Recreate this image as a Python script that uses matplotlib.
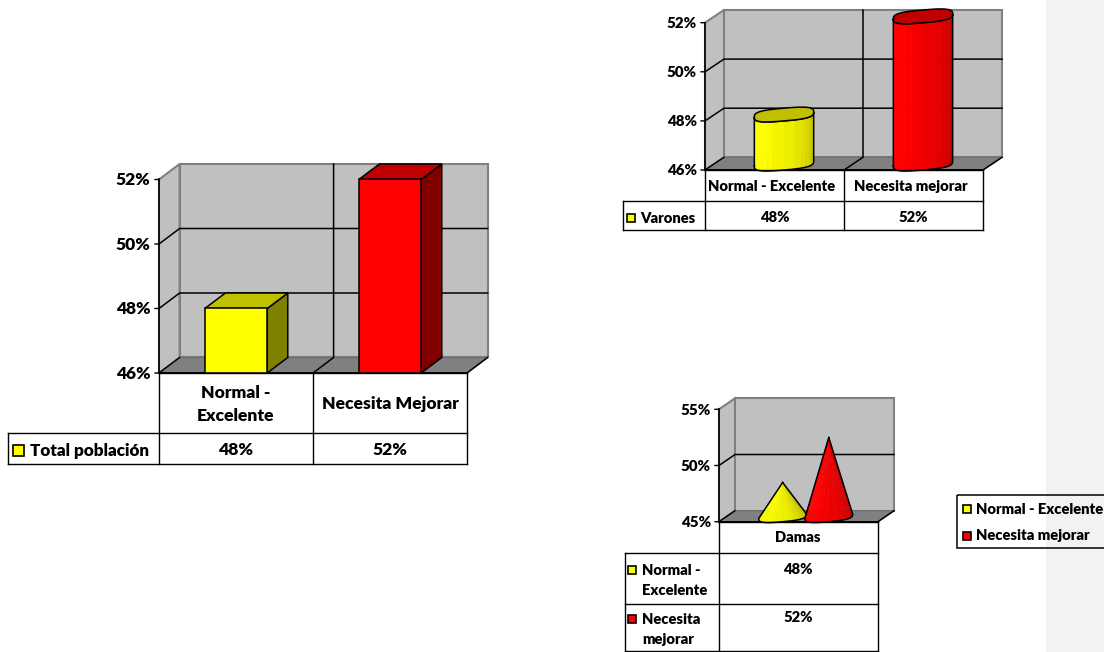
# Survey results: three oblique "3D" charts with data tables below them.

import numpy as np
import matplotlib
matplotlib.use('Agg')
import matplotlib.pyplot as plt
from matplotlib.patches import Polygon, Rectangle

plt.rcParams['font.family'] = ['Lato', 'DejaVu Sans']
plt.rcParams['font.weight'] = 800

W, H = 1104, 652

total_cats = ['Normal -\nExcelente', 'Necesita Mejorar']
total_vals = [48, 52]
total_ticks = [46, 48, 50, 52]

varones_cats = ['Normal - Excelente', 'Necesita mejorar']
varones_vals = [48, 52]
varones_ticks = [46, 48, 50, 52]

damas_cats = ['Damas']
damas_series = ['Normal -\nExcelente', 'Necesita\nmejorar']
damas_vals = [48, 52]
damas_ticks = [45, 50, 55]

legend_labels = ['Normal - Excelente', 'Necesita mejorar']

YELLOW = ('#ffff00', '#c0c000', '#808000')
RED = ('#ff0000', '#c00000', '#800000')

fig = plt.figure(figsize=(W / 100, H / 100), dpi=100, facecolor='white')

page = fig.add_axes([0, 0, 1, 1], zorder=5)
page.set_xlim(0, W)
page.set_ylim(H, 0)
page.axis('off')
page.patch.set_alpha(0)

# comment margin on the right of the sheet
back = fig.add_axes([0, 0, 1, 1], zorder=0)
back.set_xlim(0, W)
back.set_ylim(H, 0)
back.axis('off')
back.add_patch(Rectangle((1046, 0), 58, H, fc='#f2f2f2', ec='none'))


def make_chart(left, right, bottom, top, ticks, ncats, depth_x, depth_y, fs, tick_pad=6):
    ax = fig.add_axes([left / W, 1 - bottom / H, (right - left) / W, (bottom - top) / H], zorder=2)
    lo, hi = ticks[0], ticks[-1]
    ax.set_xlim(0, ncats)
    ax.set_ylim(lo, hi)
    ax.axis('off')
    dx = depth_x / ((right - left) / ncats)
    dy = depth_y / ((bottom - top) / (hi - lo))

    ax.add_patch(Polygon([(0, lo), (dx, lo + dy), (dx, hi + dy), (0, hi)], fc='#c0c0c0', ec='#808080', lw=1.5, clip_on=False, zorder=1))
    ax.add_patch(Polygon([(dx, lo + dy), (ncats + dx, lo + dy), (ncats + dx, hi + dy), (dx, hi + dy)], fc='#c0c0c0', ec='#808080', lw=1.5, clip_on=False, zorder=1))
    ax.add_patch(Polygon([(0, lo), (ncats, lo), (ncats + dx, lo + dy), (dx, lo + dy)], fc='#808080', ec='#707070', lw=1, clip_on=False, zorder=1.5))

    for t in ticks[1:-1]:
        ax.plot([0, dx, ncats + dx], [t, t + dy, t + dy], color='black', lw=1.1, clip_on=False, zorder=1.6)
    for c in range(1, ncats):
        ax.plot([c, c + dx, c + dx], [lo, lo + dy, hi + dy], color='black', lw=1.1, clip_on=False, zorder=1.6)
    ax.plot([ncats, ncats + dx], [lo, lo + dy], color='black', lw=1.1, clip_on=False, zorder=1.6)
    ax.plot([0, dx], [lo, lo + dy], color='black', lw=1.0, clip_on=False, zorder=1.6)
    ax.plot([0, 0], [lo, hi], color='black', lw=1.2, clip_on=False, zorder=1.7)
    ax.plot([0, ncats], [lo, lo], color='black', lw=1.4, clip_on=False, zorder=1.7)

    for t in ticks:
        ax.annotate('', xy=(0, t), xytext=(-3, 0), textcoords='offset points', xycoords='data',
                    arrowprops=dict(arrowstyle='-', color='black', lw=1, shrinkA=0, shrinkB=0), annotation_clip=False)
        ax.annotate('%d%%' % t, xy=(0, t), xytext=(-tick_pad, -0.7), textcoords='offset points',
                    ha='right', va='center', fontsize=fs, annotation_clip=False)
    return ax, dx, dy


def box_bar(ax, x, width, base, val, dx, dy, colors):
    x0, x1 = x - width / 2, x + width / 2
    ax.add_patch(Polygon([(x1, base), (x1 + dx, base + dy), (x1 + dx, val + dy), (x1, val)], fc=colors[2], ec='black', lw=1.1, clip_on=False, zorder=3))
    ax.add_patch(Polygon([(x0, val), (x1, val), (x1 + dx, val + dy), (x0 + dx, val + dy)], fc=colors[1], ec='black', lw=1.1, clip_on=False, zorder=3))
    ax.add_patch(Polygon([(x0, base), (x1, base), (x1, val), (x0, val)], fc=colors[0], ec='black', lw=1.1, clip_on=False, zorder=3.1))


def foot(cx, cy, rx, tilt, h, t, p=0.65):
    # rounded footprint sheared along the depth direction
    c, s = np.cos(t), np.sin(t)
    xx = np.sign(c) * np.abs(c) ** p
    yy = np.sign(s) * np.abs(s) ** p
    return cx + rx * xx, cy + tilt * xx + h * yy


def shade(colors, n):
    a = np.array(matplotlib.colors.to_rgb(colors[0]))
    b = np.array(matplotlib.colors.to_rgb(colors[1]))
    out = []
    for i in range(n):
        f = i / (n - 1)
        if f < 0.08:
            k = 0.35 * (1 - f / 0.08)
        elif f < 0.35:
            k = 0.0
        else:
            k = (f - 0.35) / 0.65
        out.append(a + (b - a) * k)
    return out


def cylinder(ax, x, width, base, val, dx, dy, colors, z=3):
    cx = x + dx / 2
    rx = (width + dx) / 2
    tilt, h = dy * 0.2, dy / 2
    n = 14
    ts = np.linspace(np.pi, 2 * np.pi, n + 1)
    cols = shade(colors, n)
    for i in range(n):
        tt = np.linspace(ts[i], ts[i + 1], 5)
        bx, by = foot(cx, base + dy / 2, rx, tilt, h, tt)
        ux, uy = foot(cx, val + dy / 2, rx, tilt, h, tt)
        pts = list(zip(bx, by)) + list(zip(ux[::-1], uy[::-1]))
        ax.add_patch(Polygon(pts, fc=cols[i], ec=cols[i], lw=0.4, clip_on=False, zorder=z))
    tt = np.linspace(np.pi, 2 * np.pi, 60)
    bx, by = foot(cx, base + dy / 2, rx, tilt, h, tt)
    ux, uy = foot(cx, val + dy / 2, rx, tilt, h, tt)
    ax.plot(list(bx) + list(ux[::-1]) + [bx[0]], list(by) + list(uy[::-1]) + [by[0]], color='black', lw=1.1, clip_on=False, zorder=z + 0.1)
    tt = np.linspace(0, 2 * np.pi, 120)
    tx, ty = foot(cx, val + dy / 2, rx, tilt, h, tt)
    ax.add_patch(Polygon(list(zip(tx, ty)), fc=colors[1], ec='black', lw=1.1, clip_on=False, zorder=z + 0.2))


def cone(ax, x, width, base, val, dx, dy, colors, z=3):
    cx = x + dx / 2
    rx = (width + dx) / 2
    tilt, h = dy * 0.2, dy / 2
    cy = base + dy / 2
    n = 22
    ts = np.linspace(np.pi, 2 * np.pi, n + 1)
    cols = shade(colors, n)
    apex = (cx, val + dy / 2)
    for i in range(n):
        tt = np.linspace(ts[i], ts[i + 1], 4)
        bx, by = foot(cx, cy, rx, tilt, h, tt)
        ax.add_patch(Polygon([apex] + list(zip(bx, by)), fc=cols[i], ec=cols[i], lw=0.3, clip_on=False, zorder=z))
    tt = np.linspace(np.pi, 2 * np.pi, 60)
    bx, by = foot(cx, cy, rx, tilt, h, tt)
    ax.plot([apex[0]] + list(bx) + [apex[0]], [apex[1]] + list(by) + [apex[1]], color='black', lw=1.1, clip_on=False, zorder=z + 0.1)


def key(x, y, size, color):
    page.add_patch(Rectangle((x, y), size, size, fc=color, ec='black', lw=1.2))


def grid_lines(xs, ys, color='black', lw=1.0):
    for x0, x1, y in xs:
        page.plot([x0, x1], [y, y], color=color, lw=lw, solid_capstyle='projecting')
    for x, y0, y1 in ys:
        page.plot([x, x], [y0, y1], color=color, lw=lw, solid_capstyle='projecting')


# total population, square bars
ax1, dx, dy = make_chart(159, 467, 373, 179.5, total_ticks, 2, 20.6, 15.5, 12.5)
for i, v in enumerate(total_vals):
    box_bar(ax1, i + 0.5, 0.405, total_ticks[0], v, dx, dy, YELLOW if i == 0 else RED)
grid_lines([(159, 467, 373), (8, 467, 433), (8, 467, 463.5)],
           [(8, 433, 463.5), (159, 373, 463.5), (313, 373, 463.5), (467, 373, 463.5)])
for i, c in enumerate(total_cats):
    page.text(236 + 154 * i, 404.5, c, ha='center', va='center', fontsize=12.6, linespacing=1.55)
    page.text(236 + 154 * i, 450, '%d%%' % total_vals[i], ha='center', va='center', fontsize=12.6)
key(13, 445, 11, YELLOW[0])
page.text(30, 451, 'Total población', ha='left', va='center', fontsize=12.3)

# men, cylinders
ax2, dx, dy = make_chart(705, 983, 170, 22.7, varones_ticks, 2, 19, 12.7, 10.8)
for i, v in enumerate(varones_vals):
    cylinder(ax2, i + 0.5, 0.29, varones_ticks[0], v, dx, dy, YELLOW if i == 0 else RED)
grid_lines([(705, 983, 170), (623, 983, 201), (623, 983, 230)],
           [(623, 201, 230), (705, 170, 230), (844, 170, 230), (983, 170, 230)])
for i, c in enumerate(varones_cats):
    page.text(772 + 139 * i, 186.5, c, ha='center', va='center', fontsize=10.6)
    page.text(774.5 + 139 * i, 218, '%d%%' % varones_vals[i], ha='center', va='center', fontsize=10.6)
key(627, 214, 8, YELLOW[0])
page.text(640, 218.5, 'Varones', ha='left', va='center', fontsize=10.6)

# women, cones side by side in one category
ax3, dx, dy = make_chart(719, 878, 521.7, 409.3, damas_ticks, 1, 16, 11, 10.8)
offsets = [-0.15, 0.14]
for i, v in enumerate(damas_vals):
    cone(ax3, 0.5 + offsets[i], 0.2, damas_ticks[0], v, dx, dy, YELLOW if i == 0 else RED, z=3 + i)
grid_lines([(719, 878, 521.7), (624.5, 878, 553), (624.5, 878, 604), (624.5, 878, 651)],
           [(624.5, 553, 651), (719, 521.7, 651), (878, 521.7, 651)])
page.text(798, 538, damas_cats[0], ha='center', va='center', fontsize=10.6)
for i, s in enumerate(damas_series):
    y0 = [569, 618][i]
    key(628, y0 - 3, 8, YELLOW[0] if i == 0 else RED[0])
    page.text(642, y0 + 11.5, s, ha='left', va='center', fontsize=10.6, linespacing=1.62)
    page.text(798, y0, '%d%%' % damas_vals[i], ha='center', va='center', fontsize=10.6)

# shared legend, runs off the right side of the sheet
page.add_patch(Rectangle((957, 494.5), 160, 53.5, fc='none', ec='black', lw=1.1, clip_on=True))
for i, s in enumerate(legend_labels):
    y0 = [509, 536][i]
    key(963, y0 - 4, 8, YELLOW[0] if i == 0 else RED[0])
    page.text(976, y0, s, ha='left', va='center', fontsize=10.6)

fig.savefig('out.png', dpi=100)
